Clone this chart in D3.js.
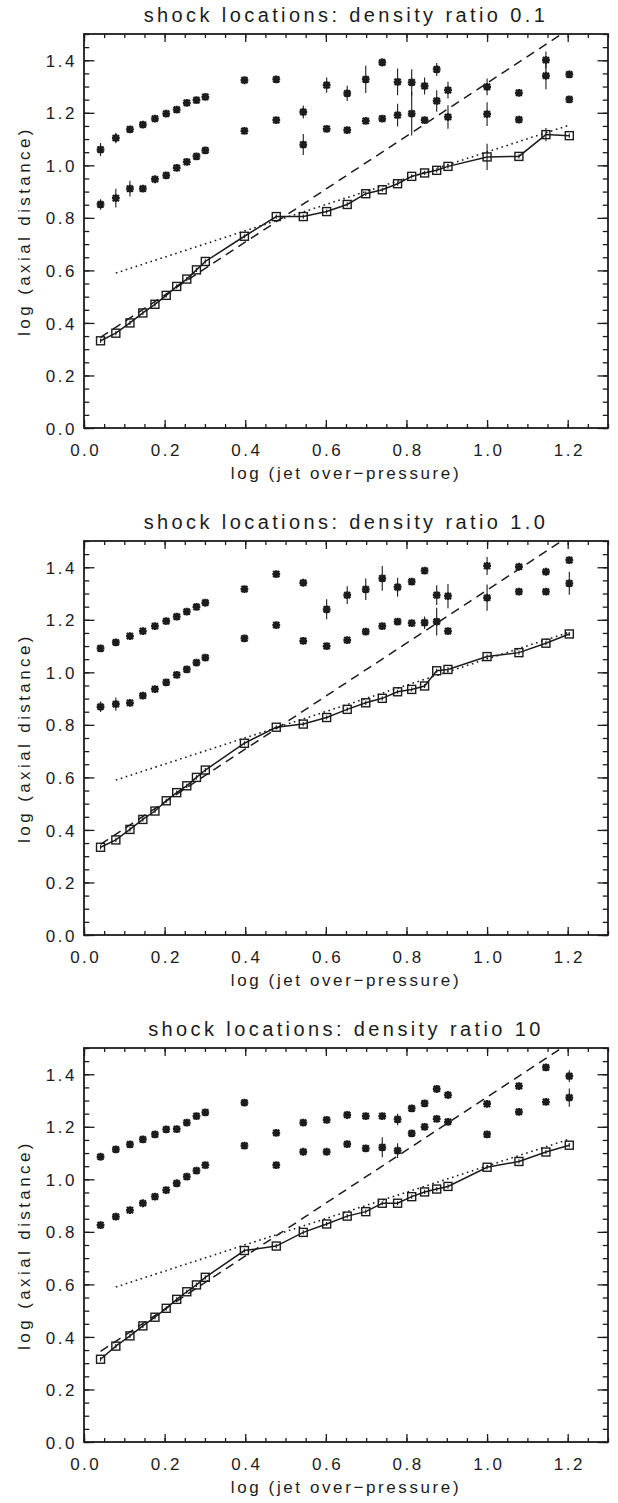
<!DOCTYPE html>
<html><head><meta charset="utf-8">
<script src="https://cdn.jsdelivr.net/npm/d3@7"></script>
<style>
body{margin:0;background:#fff;}
svg text{font-family:"Liberation Sans",Arial,Helvetica,sans-serif;fill:#1c1c1c;}
</style></head><body>
<svg id="c" width="618" height="1503"></svg>
<script>
// ---------- data ----------
const titles = ["shock locations: density ratio 0.1","shock locations: density ratio 1.0","shock locations: density ratio 10"];
const xLabel = "log (jet over\u2212pressure)";
const yLabel = "log (axial distance)";
const xTickVals = [0.0,0.2,0.4,0.6,0.8,1.0,1.2];
const xTickLabels = ["0.0","0.2","0.4","0.6","0.8","1.0","1.2"];
const yTickVals = [0.0,0.2,0.4,0.6,0.8,1.0,1.2,1.4];
const yTickLabels = ["0.0","0.2","0.4","0.6","0.8","1.0","1.2","1.4"];

// log (jet over-pressure)
const xVals = [0.041,0.079,0.114,0.146,0.176,0.204,0.230,0.255,0.279,0.301,0.398,0.477,0.544,0.602,0.653,0.699,0.740,0.778,0.813,0.845,0.875,0.903,1.000,1.079,1.146,1.204];

// panel 1 (density ratio 0.1)
const sq1 = [0.332,0.361,0.400,0.438,0.471,0.505,0.539,0.567,0.602,0.634,0.730,0.805,0.805,0.824,0.851,0.892,0.907,0.930,0.958,0.971,0.981,0.996,1.032,1.034,1.117,1.113];
const sq1Err = [0.008,0.008,0.008,0.008,0.008,0.008,0.008,0.008,0.008,0.008,0.008,0.008,0.008,0.008,0.008,0.008,0.008,0.008,0.008,0.008,0.008,0.008,0.050,0.008,0.025,0.008];
const up1 = [1.060,1.104,1.137,1.155,1.178,1.197,1.212,1.238,1.248,1.261,1.324,1.327,1.203,1.305,1.274,1.327,1.392,1.318,1.316,1.302,1.365,1.286,1.299,1.276,1.401,1.346];
const up1Err = [0.025,0.020,0.010,0.010,0.010,0.010,0.010,0.010,0.010,0.010,0.010,0.010,0.025,0.029,0.029,0.052,0.016,0.051,0.050,0.032,0.025,0.032,0.032,0.010,0.032,0.010];
const lo1 = [0.851,0.875,0.911,0.911,0.947,0.962,0.990,1.013,1.034,1.057,1.131,1.172,1.079,1.139,1.134,1.169,1.178,1.191,1.197,1.172,1.245,1.184,1.195,1.174,1.341,1.251];
const lo1Err = [0.020,0.036,0.030,0.010,0.010,0.010,0.010,0.010,0.010,0.010,0.010,0.010,0.040,0.010,0.010,0.010,0.010,0.043,0.083,0.010,0.041,0.045,0.045,0.010,0.051,0.010];

// panel 2 (density ratio 1.0)
const sq2 = [0.334,0.362,0.402,0.440,0.472,0.511,0.542,0.568,0.600,0.628,0.730,0.791,0.803,0.828,0.859,0.884,0.901,0.926,0.935,0.948,1.006,1.011,1.060,1.075,1.111,1.146];
const sq2Err = [0.008,0.008,0.008,0.008,0.008,0.008,0.008,0.008,0.008,0.008,0.008,0.008,0.008,0.008,0.008,0.008,0.008,0.008,0.008,0.008,0.008,0.008,0.008,0.008,0.008,0.008];
const up2 = [1.091,1.114,1.138,1.157,1.176,1.195,1.212,1.231,1.249,1.265,1.317,1.374,1.341,1.240,1.294,1.316,1.358,1.324,1.345,1.387,1.294,1.290,1.405,1.402,1.383,1.427];
const up2Err = [0.010,0.010,0.010,0.010,0.010,0.010,0.010,0.010,0.010,0.010,0.010,0.010,0.010,0.038,0.034,0.041,0.047,0.036,0.010,0.010,0.038,0.046,0.034,0.010,0.010,0.010];
const lo2 = [0.869,0.879,0.884,0.911,0.936,0.962,0.990,1.011,1.037,1.056,1.129,1.180,1.120,1.100,1.123,1.155,1.176,1.193,1.187,1.189,1.193,1.157,1.284,1.307,1.307,1.339];
const lo2Err = [0.020,0.025,0.010,0.010,0.010,0.010,0.010,0.010,0.010,0.010,0.010,0.010,0.010,0.010,0.010,0.010,0.010,0.010,0.010,0.024,0.053,0.010,0.050,0.010,0.010,0.044];

// panel 3 (density ratio 10)
const sq3 = [0.315,0.365,0.404,0.442,0.475,0.509,0.543,0.572,0.598,0.627,0.729,0.746,0.798,0.830,0.860,0.877,0.909,0.909,0.934,0.952,0.963,0.973,1.046,1.068,1.104,1.130];
const sq3Err = [0.008,0.008,0.008,0.008,0.008,0.008,0.008,0.008,0.008,0.008,0.008,0.008,0.008,0.008,0.008,0.008,0.008,0.008,0.008,0.008,0.008,0.008,0.008,0.008,0.008,0.008];
const up3 = [1.086,1.114,1.133,1.152,1.171,1.190,1.191,1.216,1.241,1.255,1.292,1.177,1.216,1.226,1.245,1.241,1.241,1.228,1.270,1.289,1.344,1.321,1.287,1.355,1.426,1.393];
const up3Err = [0.010,0.010,0.010,0.010,0.010,0.010,0.010,0.010,0.010,0.010,0.010,0.010,0.010,0.010,0.010,0.010,0.010,0.022,0.010,0.010,0.010,0.010,0.010,0.010,0.010,0.022];
const lo3 = [0.826,0.858,0.883,0.909,0.934,0.959,0.985,1.010,1.033,1.054,1.128,1.054,1.105,1.105,1.134,1.118,1.122,1.109,1.175,1.200,1.230,1.219,1.171,1.257,1.295,1.311];
const lo3Err = [0.010,0.010,0.010,0.010,0.010,0.010,0.010,0.010,0.010,0.010,0.010,0.010,0.010,0.010,0.010,0.010,0.038,0.028,0.010,0.010,0.010,0.010,0.010,0.010,0.010,0.035];

// reference lines (same in all panels)
const dashedX = [0.041,1.185];
const dashedY = [0.345,1.500];
const dottedX = [0.079,1.204];
const dottedY = [0.590,1.153];

const panels = [
  {title:titles[0], sq:sq1, sqErr:sq1Err, up:up1, upErr:up1Err, lo:lo1, loErr:lo1Err},
  {title:titles[1], sq:sq2, sqErr:sq2Err, up:up2, upErr:up2Err, lo:lo2, loErr:lo2Err},
  {title:titles[2], sq:sq3, sqErr:sq3Err, up:up3, upErr:up3Err, lo:lo3, loErr:lo3Err}
];

// ---------- drawing ----------
const ink = "#1c1c1c";
const svg = d3.select("#c");
svg.append("rect").attr("width",618).attr("height",1503).attr("fill","#fff");
const left = 84, right = 608, tops = [34,541,1048], ph = 394;
const x = d3.scaleLinear().domain([0,1.3]).range([left,right]);
const xMinor = d3.range(0,1.3001,0.05);
const yMinor = d3.range(0,1.5001,0.05);

function starPath(r){
  const d = r*0.78;
  return `M${-r},0H${r}M0,${-r}V${r}M${-d},${-d}L${d},${d}M${-d},${d}L${d},${-d}`;
}

panels.forEach((p,i)=>{
  const top = tops[i], bottom = top+ph;
  const y = d3.scaleLinear().domain([0,1.5]).range([bottom,top]);
  const g = svg.append("g");
  const cid = "clip"+i;
  svg.append("clipPath").attr("id",cid).append("rect")
     .attr("x",left).attr("y",top).attr("width",right-left).attr("height",ph);

  // title
  g.append("text").attr("x",(left+right)/2).attr("y",top-12)
   .attr("text-anchor","middle").style("font-size","20px").style("letter-spacing","3.4px")
   .text(p.title);

  // axes: minor
  const tl = 8, tlY = 10.5;
  const axB = g.append("g").attr("transform",`translate(0,${bottom})`)
    .call(d3.axisBottom(x).tickValues(xMinor).tickSize(-tl/2).tickSizeOuter(0).tickFormat(""));
  const axT = g.append("g").attr("transform",`translate(0,${top})`)
    .call(d3.axisTop(x).tickValues(xMinor).tickSize(-tl/2).tickSizeOuter(0).tickFormat(""));
  const axL = g.append("g").attr("transform",`translate(${left},0)`)
    .call(d3.axisLeft(y).tickValues(yMinor).tickSize(-tlY/2).tickSizeOuter(0).tickFormat(""));
  const axR = g.append("g").attr("transform",`translate(${right},0)`)
    .call(d3.axisRight(y).tickValues(yMinor).tickSize(-tlY/2).tickSizeOuter(0).tickFormat(""));
  // major
  const mB = g.append("g").attr("transform",`translate(0,${bottom})`)
    .call(d3.axisBottom(x).tickValues(xTickVals).tickSize(-tl).tickSizeOuter(0).tickFormat((d,k)=>xTickLabels[k]));
  const mT = g.append("g").attr("transform",`translate(0,${top})`)
    .call(d3.axisTop(x).tickValues(xTickVals).tickSize(-tl).tickSizeOuter(0).tickFormat(""));
  const mL = g.append("g").attr("transform",`translate(${left},0)`)
    .call(d3.axisLeft(y).tickValues(yTickVals).tickSize(-tlY).tickSizeOuter(0).tickFormat((d,k)=>yTickLabels[k]));
  const mR = g.append("g").attr("transform",`translate(${right},0)`)
    .call(d3.axisRight(y).tickValues(yTickVals).tickSize(-tlY).tickSizeOuter(0).tickFormat(""));
  [axB,axT,axL,axR,mB,mT,mL,mR].forEach(a=>{
    a.select(".domain").remove();
    a.selectAll(".tick line").attr("stroke",ink).attr("stroke-width",1.3);
  });
  mB.selectAll(".tick text").attr("y",28).attr("dy",null)
    .style("font-size","17px").style("letter-spacing","2.5px").attr("dx","1.2px");
  mL.selectAll(".tick text").attr("x",-7).attr("dy","0.36em")
    .style("font-size","17px").style("letter-spacing","2.5px");
  [mB,mL].forEach(a=>a.attr("font-family",null).attr("font-size",null));

  // box
  g.append("rect").attr("x",left).attr("y",top).attr("width",right-left).attr("height",ph)
   .attr("fill","none").attr("stroke",ink).attr("stroke-width",1.8);

  // axis titles
  g.append("text").attr("x",(left+right)/2).attr("y",bottom+51)
   .attr("text-anchor","middle").style("font-size","17px").style("letter-spacing","2.6px").text(xLabel);
  g.append("text").attr("transform",`translate(29.5,${(top+bottom)/2}) rotate(-90)`)
   .attr("text-anchor","middle").style("font-size","17px").style("letter-spacing","3.4px").text(yLabel);

  const plot = g.append("g").attr("clip-path",`url(#${cid})`);
  const line = d3.line().x(d=>x(d[0])).y(d=>y(d[1]));

  // dotted
  plot.append("path").datum(d3.zip(dottedX,dottedY)).attr("d",line)
    .attr("fill","none").attr("stroke",ink).attr("stroke-width",1.6)
    .attr("stroke-dasharray","1.6,3.6");
  // dashed
  plot.append("path").datum(d3.zip(dashedX,dashedY)).attr("d",line)
    .attr("fill","none").attr("stroke",ink).attr("stroke-width",1.5)
    .attr("stroke-dasharray","9,6");
  // solid squares line
  const sqData = d3.zip(xVals,p.sq);
  plot.append("path").datum(sqData).attr("d",line)
    .attr("fill","none").attr("stroke",ink).attr("stroke-width",1.5);

  // error bars
  const eb = (vals,errs)=>{
    plot.append("g").selectAll("line").data(d3.zip(xVals,vals,errs)).join("line")
      .attr("x1",d=>x(d[0])).attr("x2",d=>x(d[0]))
      .attr("y1",d=>y(d[1]-d[2])).attr("y2",d=>y(d[1]+d[2]))
      .attr("stroke",ink).attr("stroke-width",1.1);
  };
  eb(p.sq,p.sqErr); eb(p.up,p.upErr); eb(p.lo,p.loErr);

  // squares
  const s = 8;
  plot.append("g").selectAll("rect").data(sqData).join("rect")
    .attr("x",d=>x(d[0])-s/2).attr("y",d=>y(d[1])-s/2).attr("width",s).attr("height",s)
    .attr("fill","none").attr("stroke",ink).attr("stroke-width",1.4);

  // stars
  const sp = starPath(3.9);
  [p.up,p.lo].forEach(vals=>{
    plot.append("g").selectAll("path").data(d3.zip(xVals,vals)).join("path")
      .attr("d",sp).attr("transform",d=>`translate(${x(d[0])},${y(d[1])})`)
      .attr("fill","none").attr("stroke",ink).attr("stroke-width",2.3);
  });
});
</script>
</body></html>
